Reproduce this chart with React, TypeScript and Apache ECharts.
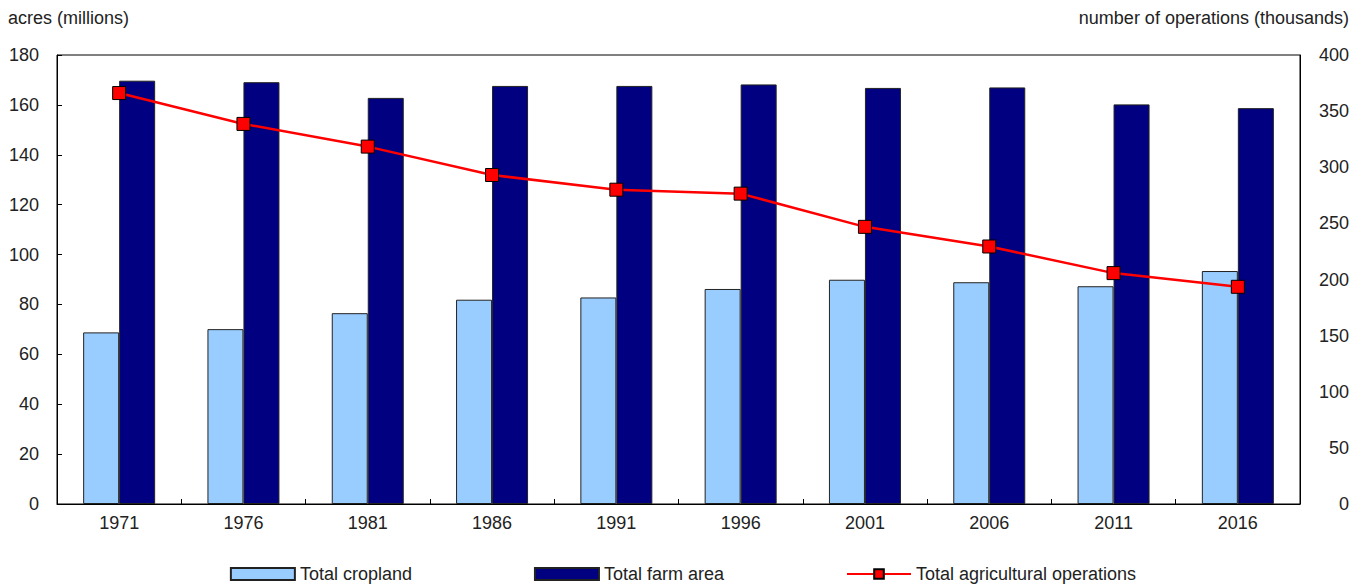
import React, { useEffect, useRef } from "react";
import * as echarts from "echarts";

const years = ["1971", "1976", "1981", "1986", "1991", "1996", "2001", "2006", "2011", "2016"];
const cropland = [68.8, 70.1, 76.5, 81.9, 82.8, 86.2, 89.9, 88.9, 87.3, 93.4];
const farmArea = [169.7, 169.1, 162.8, 167.6, 167.6, 168.2, 166.8, 167.0, 160.2, 158.7];
const operations = [366.1, 338.6, 318.4, 293.1, 280.0, 276.5, 246.9, 229.4, 205.7, 193.5];
const leftTitle = "acres (millions)";
const rightTitle = "number of operations (thousands)";

const FONT = "'Liberation Sans Narrow', 'Arial Narrow', 'Liberation Sans', sans-serif";
const TXT = "#222";

export default function App() {
  const ref = useRef<HTMLDivElement>(null);
  useEffect(() => {
    if (!ref.current) return;
    const chart = echarts.init(ref.current, undefined, { renderer: "svg" });
    chart.setOption({
      animation: false,
      textStyle: { fontFamily: FONT },
      grid: {
        left: 57,
        right: 66,
        top: 55,
        bottom: 82,
        show: true,
        borderColor: "#000",
        borderWidth: 1,
      },
      graphic: [
        {
          type: "text",
          left: 8,
          top: 9,
          style: { text: leftTitle, font: `18px ${FONT}`, fill: TXT },
        },
        {
          type: "text",
          right: 17,
          top: 9,
          style: { text: rightTitle, font: `18px ${FONT}`, fill: TXT },
        },
      ],
      legend: {
        top: 565,
        left: "center",
        padding: 0,
        itemWidth: 64,
        itemHeight: 12,
        itemGap: 122,
        textStyle: { fontFamily: FONT, fontSize: 18, color: TXT },
        data: [
          { name: "Total cropland", icon: "rect" },
          { name: "Total farm area", icon: "rect" },
          { name: "Total agricultural operations" },
        ],
      },
      xAxis: {
        type: "category",
        data: years,
        axisLine: { lineStyle: { color: "#000", width: 1 } },
        axisTick: { show: true, inside: true, length: 5, lineStyle: { color: "#000" } },
        axisLabel: { fontFamily: FONT, fontSize: 18, color: TXT, margin: 10 },
      },
      yAxis: [
        {
          type: "value",
          min: 0,
          max: 180,
          interval: 20,
          splitLine: { show: false },
          axisLine: { show: true, lineStyle: { color: "#000" } },
          axisTick: { show: true, inside: true, length: 5, lineStyle: { color: "#000" } },
          axisLabel: { fontFamily: FONT, fontSize: 18, color: TXT, margin: 18 },
        },
        {
          type: "value",
          min: 0,
          max: 400,
          interval: 50,
          position: "right",
          splitLine: { show: false },
          axisLine: { show: true, lineStyle: { color: "#000" } },
          axisTick: { show: false },
          axisLabel: { fontFamily: FONT, fontSize: 18, color: TXT, margin: 49, align: "right" },
        },
      ],
      series: [
        {
          name: "Total cropland",
          type: "bar",
          data: cropland,
          barWidth: 36,
          barGap: "0%",
          itemStyle: { color: "#99CCFF", borderColor: "#222", borderWidth: 1 },
        },
        {
          name: "Total farm area",
          type: "bar",
          data: farmArea,
          barWidth: 36,
          barGap: "0%",
          itemStyle: { color: "#000080", borderColor: "#222", borderWidth: 1 },
        },
        {
          name: "Total agricultural operations",
          type: "line",
          yAxisIndex: 1,
          data: operations,
          symbol: "rect",
          symbolSize: 13,
          lineStyle: { color: "#FF0000", width: 2.5 },
          itemStyle: { color: "#FF0000", borderColor: "#000", borderWidth: 1 },
        },
      ],
    });
    return () => chart.dispose();
  }, []);
  return (
    <div
      ref={ref}
      style={{ position: "fixed", left: 0, top: 0, width: 1366, height: 586, background: "#fff" }}
    />
  );
}
